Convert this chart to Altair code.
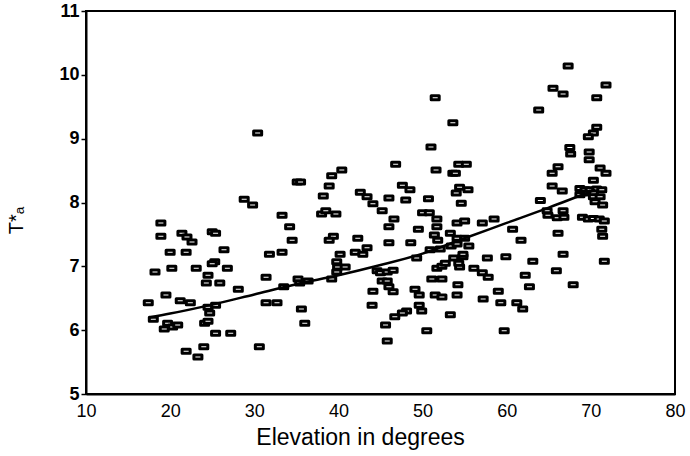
import altair as alt
import pandas as pd

# Scatter data (elevation in degrees, T*a)
elevation = [
    30.4, 35.1, 35.5, 40.4, 39.2, 38.9, 38.2, 28.8, 42.6, 43.4, 46.0,
    67.3, 65.5, 66.7, 71.8, 70.7, 51.5, 63.8, 53.6, 51.0, 46.8, 51.6,
    53.6, 53.9, 54.3, 55.2, 70.7, 70.3, 69.7, 67.5, 67.6, 69.8, 69.8,
    71.1, 71.8, 70.3, 66.1, 65.4, 65.4, 66.6, 68.7, 69.3, 69.9, 70.7,
    71.3, 69.1, 70.3, 47.6, 48.5, 48.0, 50.7, 54.4, 54.0, 55.4, 64.0,
    54.6, 68.7, 70.3, 71.1, 70.5, 71.4, 29.8, 44.1, 45.2, 33.3, 38.0,
    38.5, 39.7, 18.9, 18.9, 21.4, 22.0, 22.6, 25.0, 25.4, 34.2, 34.5,
    39.4, 38.9, 42.3, 46.0, 46.0, 20.0, 21.9, 26.4, 31.8, 33.3, 40.2,
    42.0, 43.4, 42.9, 39.8, 39.9, 40.8, 39.8, 18.2, 20.2, 23.1, 25.3,
    25.0, 26.8, 24.5, 24.3, 25.9, 28.1, 31.4, 35.2, 36.4, 35.4, 33.5,
    39.2, 44.6, 45.0, 45.8, 46.5, 45.2, 45.8, 46.0, 44.1, 19.5, 21.2,
    22.4, 17.4, 24.5, 25.4, 24.7, 31.4, 32.7, 35.6, 44.0, 18.0, 19.7,
    19.3, 20.3, 20.9, 24.1, 24.5, 36.0, 45.6, 25.4, 27.2, 45.8, 24.0,
    21.9, 23.3, 30.6, 50.0, 50.8, 46.6, 51.7, 49.5, 51.7, 54.1, 55.0,
    57.1, 58.5, 60.7, 64.8, 64.9, 66.7, 66.0, 66.8, 69.0, 69.7, 70.3,
    71.0, 71.6, 71.3, 71.4, 71.6, 66.1, 66.7, 65.9, 67.9, 61.7, 63.1,
    59.9, 57.7, 62.2, 62.7, 59.0, 57.2, 59.3, 61.2, 61.9, 59.7, 50.5,
    53.3, 49.6, 49.9, 48.1, 47.6, 46.7, 51.5, 52.3, 54.1, 54.2, 49.1,
    49.6, 46.5, 51.1, 52.3, 56.1, 57.1, 57.8, 51.7, 52.3, 52.7, 54.4,
    54.3, 53.7, 54.8, 54.8, 49.3, 50.9, 52.1, 53.4, 54.1, 54.1, 55.0,
    55.5, 53.3, 51.4, 51.8, 48.6,
]
ta_star = [
    9.09, 8.32, 8.32, 8.51, 8.42, 8.26, 8.10, 8.05, 8.16, 8.09, 8.07,
    10.14, 9.79, 9.70, 9.84, 9.64, 9.64, 9.45, 9.25, 8.87, 8.60, 8.51,
    8.46, 8.46, 8.60, 8.60, 9.18, 9.09, 9.03, 8.86, 8.76, 8.79, 8.67,
    8.54, 8.46, 8.35, 8.56, 8.46, 8.26, 8.18, 8.22, 8.20, 8.20, 8.21,
    8.20, 8.15, 8.15, 8.27, 8.20, 8.04, 8.06, 8.24, 8.15, 8.20, 8.03,
    7.99, 8.12, 8.09, 8.09, 8.01, 7.96, 7.96, 7.98, 7.87, 7.80, 7.82,
    7.87, 7.82, 7.68, 7.47, 7.52, 7.46, 7.38, 7.54, 7.52, 7.62, 7.41,
    7.47, 7.41, 7.44, 7.62, 7.37, 7.22, 7.22, 7.26, 7.19, 7.22, 7.19,
    7.22, 7.29, 7.19, 7.07, 6.99, 6.99, 6.91, 6.91, 6.97, 6.97, 7.07,
    7.04, 6.97, 6.86, 6.74, 6.74, 6.64, 6.83, 6.80, 6.77, 6.74, 6.68,
    6.80, 6.93, 6.90, 6.91, 6.94, 6.77, 6.77, 6.68, 6.61, 6.55, 6.46,
    6.43, 6.43, 6.36, 6.39, 6.27, 6.43, 6.43, 6.33, 6.39, 6.17, 6.11,
    6.02, 6.05, 6.08, 6.11, 6.14, 6.11, 6.08, 5.95, 5.95, 5.83, 5.74,
    5.67, 5.58, 5.74, 7.84, 7.84, 7.74, 7.74, 7.58, 7.62, 7.68, 7.71,
    7.68, 7.74, 7.58, 7.87, 7.80, 7.87, 7.76, 7.77, 7.77, 7.74, 7.75,
    7.74, 7.71, 7.58, 7.47, 7.08, 7.52, 7.19, 6.93, 6.71, 7.41, 7.08,
    7.15, 7.13, 6.86, 6.68, 6.61, 6.49, 6.43, 6.43, 6.33, 5.99, 5.99,
    6.24, 6.39, 6.30, 6.30, 6.27, 6.21, 6.55, 6.52, 6.55, 6.71, 6.64,
    6.55, 6.60, 6.80, 6.80, 6.97, 6.90, 6.83, 6.97, 7.00, 7.05, 6.99,
    7.05, 7.13, 7.15, 7.19, 7.13, 7.26, 7.27, 7.32, 7.35, 7.44, 7.44,
    7.32, 7.52, 7.49, 7.41, 7.37,
]

# Fitted curve
fit_elevation = [17.5, 20, 25, 30, 35, 40, 45, 50, 55, 60, 65, 70.5]
fit_ta = [6.20, 6.26, 6.40, 6.56, 6.72, 6.86, 7.02, 7.20, 7.44, 7.68, 7.92, 8.20]

x_ticks = [10, 20, 30, 40, 50, 60, 70, 80]
y_ticks = [5, 6, 7, 8, 9, 10, 11]

pts = pd.DataFrame({"elev": elevation, "ta": ta_star})
fit = pd.DataFrame({"elev": fit_elevation, "ta": fit_ta})

FONT = "Liberation Sans"

xscale = alt.Scale(domain=[10, 80], nice=False, zero=False)
yscale = alt.Scale(domain=[5, 11], nice=False, zero=False)

xaxis = alt.Axis(
    values=x_ticks, format="d", title="Elevation in degrees", grid=False,
    ticks=False, labelFontSize=18, labelPadding=8, labelFont=FONT,
    labelColor="black", labelFlush=False, titleFont=FONT, titleFontSize=23,
    titleFontWeight="normal", titleColor="black", titlePadding=6,
    titleX=274, domainColor="black", domainWidth=2,
)
yaxis = alt.Axis(
    values=y_ticks, format="d", title="T*ₐ", grid=False, ticks=True,
    tickSize=5, tickWidth=1.5, tickColor="black", labelFontSize=18,
    labelFontWeight="bold", labelPadding=2, labelFont=FONT,
    labelColor="black", titleFont=FONT, titleFontSize=20,
    titleFontWeight="normal", titleColor="black", titlePadding=32,
    titleY=209, domainColor="black", domainWidth=2,
)

box_shape = "M-1,-0.5H1V0.5H-1Z"

points = alt.Chart(pts).mark_point(
    shape=box_shape, size=64, filled=True, fill="white", stroke="black",
    strokeWidth=3, opacity=1, strokeJoin="round",
).encode(
    x=alt.X("elev:Q", scale=xscale, axis=xaxis),
    y=alt.Y("ta:Q", scale=yscale, axis=yaxis),
)

line = alt.Chart(fit).mark_line(
    color="black", strokeWidth=2.5, interpolate="monotone",
).encode(
    x=alt.X("elev:Q", scale=xscale),
    y=alt.Y("ta:Q", scale=yscale),
)

chart = alt.layer(points, line).properties(
    width=589, height=383,
    autosize=alt.AutoSizeParams(type="none"),
    padding={"left": 86, "top": 11, "right": 15, "bottom": 62},
    background="white",
).configure_view(
    stroke="black", strokeWidth=2,
)

chart.save("out.html", embed_options={"renderer": "svg", "actions": False})
